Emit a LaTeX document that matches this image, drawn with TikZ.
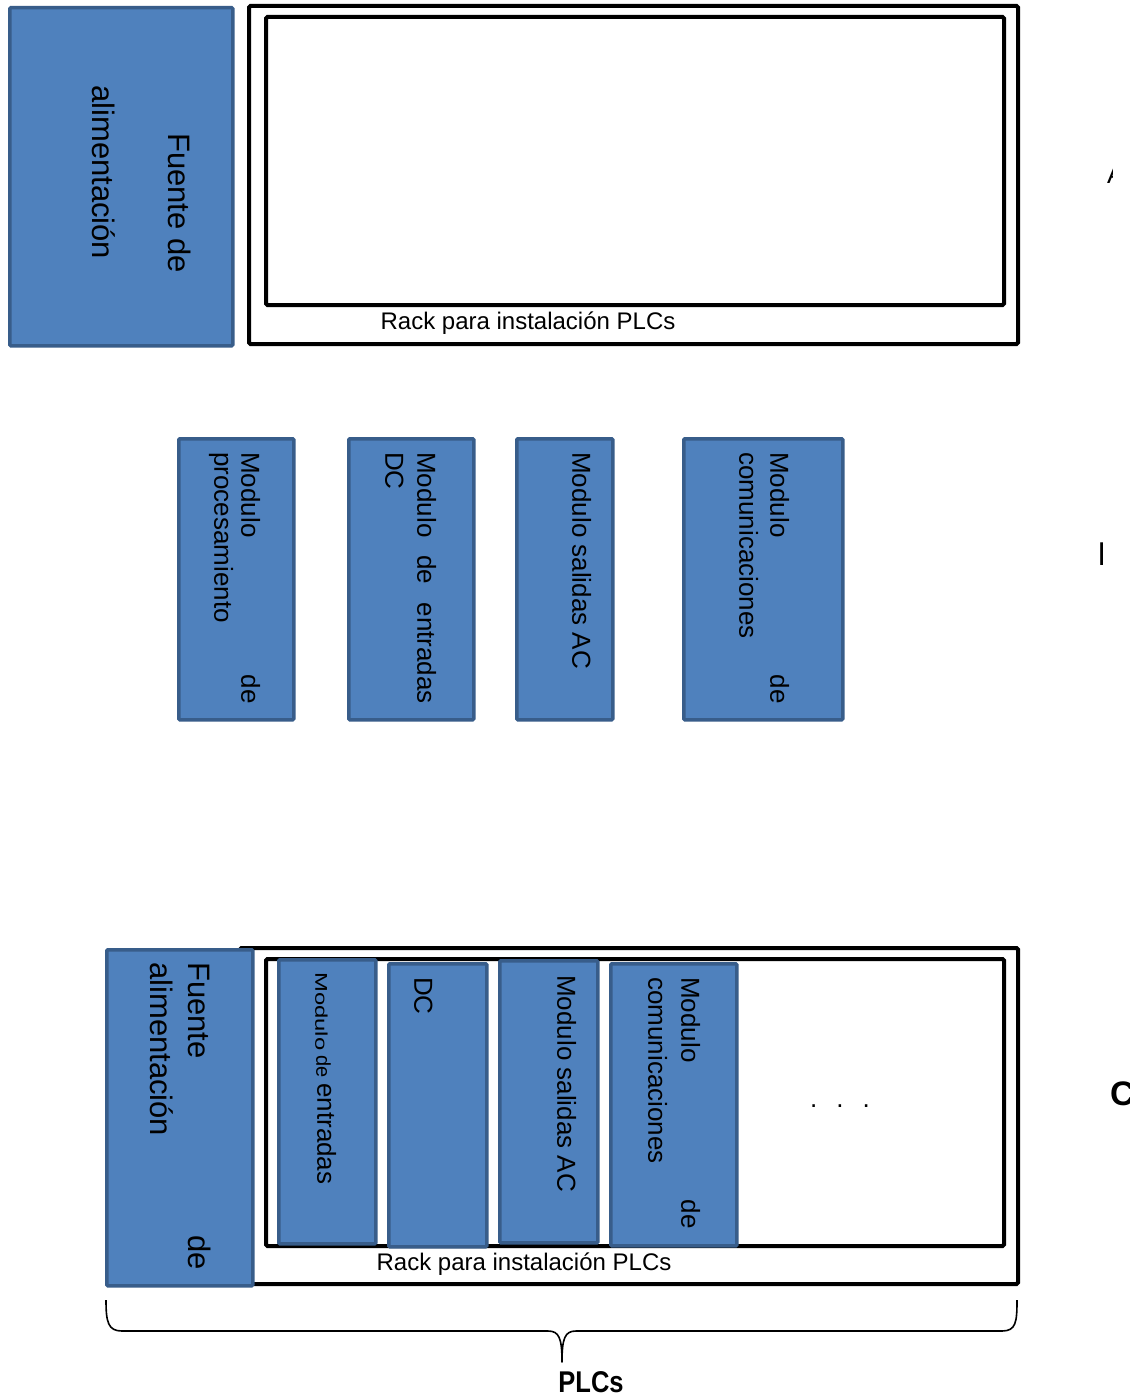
\documentclass[tikz,border=0pt]{standalone}
\usepackage{fontspec}
\setmainfont{Liberation Sans}
\definecolor{modfill}{HTML}{4F81BD}
\definecolor{modline}{HTML}{385D8A}
\begin{document}
\begin{tikzpicture}[x=1pt,y=-1pt,
  mod/.style={draw=modline, fill=modfill, line width=3.5pt, inner sep=0pt, anchor=north west, rounded corners=1pt},
  rack/.style={draw=black, line width=4pt, rounded corners=1.5pt},
  vt/.style={rotate=-90, inner sep=0pt, font=\fontsize{26}{30}\selectfont},
  vs/.style={rotate=-90, inner sep=0pt, font=\fontsize{20}{24}\selectfont},
  big/.style={rotate=-90, inner sep=0pt, font=\fontsize{31}{36}\selectfont},
  lbl/.style={inner sep=0pt, font=\fontsize{24}{28}\selectfont}]
\useasboundingbox (0,0) rectangle (1138,1399);
\fill[white] (0,0) rectangle (1138,1399);

% ---------- top: power supply and empty rack ----------
\node (f1) [mod, minimum width=223pt, minimum height=338pt] at (8,6) {};
\draw[rack] (249,6) rectangle (1018,344);
\draw[rack] (266,17) rectangle (1004,305);
\node (r1) [lbl, anchor=base] at (528,329) {Rack para instalación PLCs};
\node (f1a) [big, anchor=mid west] at (171,133) {Fuente de};
\node (f1b) [big, anchor=mid west] at (95,85) {alimentación};

% ---------- middle: loose modules ----------
\node (m1) [mod, minimum width=115pt, minimum height=281pt] at (177,437) {};
\node (m2) [mod, minimum width=125pt, minimum height=281pt] at (347,437) {};
\node (m3) [mod, minimum width=96pt, minimum height=281pt] at (515,437) {};
\node (m4) [mod, minimum width=159pt, minimum height=281pt] at (682,437) {};

\node (m1a) [vt, anchor=mid west] at (244,452) {Modulo};
\node (m1b) [vt, anchor=mid east] at (244,704) {de};
\node (m1c) [vt, anchor=mid west] at (217,452) {procesamiento};

\node (m2a) [vt, anchor=mid west] at (420,452) {Modulo};
\node (m2b) [vt, anchor=mid west] at (420,555) {de};
\node (m2c) [vt, anchor=mid east] at (420,704) {entradas};
\node (m2d) [vt, anchor=mid west] at (388,452) {DC};

\node (m3a) [vt, anchor=mid west] at (575,452) {Modulo salidas AC};

\node (m4a) [vt, anchor=mid west] at (773,452) {Modulo};
\node (m4b) [vt, anchor=mid east] at (773,704) {de};
\node (m4c) [vt, anchor=mid west] at (742,452) {comunicaciones};

% ---------- bottom: assembled PLC ----------
\draw[rack] (240,948) rectangle (1018,1284);
\draw[rack] (266,959) rectangle (1004,1246);
\node (b1) [mod, minimum width=97pt, minimum height=284pt] at (277,958) {};
\node (b2) [mod, minimum width=98pt, minimum height=283pt] at (387,962) {};
\node (b3) [mod, minimum width=98pt, minimum height=282pt] at (498,959) {};
\node (b4) [mod, minimum width=126pt, minimum height=282pt] at (609,962) {};
\node (f2) [mod, minimum width=146pt, minimum height=336pt] at (105,948) {};

\node (f2a) [big, anchor=mid west] at (191,962) {Fuente};
\node (f2b) [big, anchor=mid west] at (153,962) {alimentación};
\node (f2c) [big, anchor=mid east] at (191,1270) {de};

\node (b1a) [rotate=-90, xscale=1.4, inner sep=0pt, font=\fontsize{17}{20}\selectfont, anchor=mid west] at (318,972) {Modulo};
\node (b1d) [vs, anchor=mid west] at (319,1055) {de};
\node (b1b) [vt, anchor=mid west] at (320,1083) {entradas};
\node (b2a) [vt, anchor=mid west] at (417,977) {DC};
\node (b3a) [vt, anchor=mid west] at (560,975) {Modulo salidas AC};
\node (b4a) [vt, anchor=mid west] at (684,977) {Modulo};
\node (b4b) [vt, anchor=mid west] at (651,977) {comunicaciones};
\node (b4c) [vt, anchor=mid east] at (684,1229) {de};

\node (dots) [lbl, anchor=base, font=\fontsize{26}{30}\selectfont] at (840,1107) {.\hspace{19pt}.\hspace{19pt}.};
\node (r2) [lbl, anchor=base] at (524,1270) {Rack para instalación PLCs};

% ---------- brace ----------
\coordinate (brL) at (106,1300);
\coordinate (brR) at (1017,1300);
\coordinate (brT) at (562,1362);
\draw[line width=1.6pt, line join=round]
  (brL) .. controls (106,1322) and (108,1331) .. (122,1331) -- (548,1331)
  .. controls (559,1331) and (562,1338) .. (brT)
  .. controls (562,1338) and (565,1331) .. (576,1331) -- (1002,1331)
  .. controls (1016,1331) and (1017,1322) .. (brR);
\node (plcs) [inner sep=0pt, anchor=base, xscale=0.85, font=\bfseries\fontsize{30}{34}\selectfont] at (591,1392) {PLCs};

% ---------- clipped letters at the right edge ----------
\begin{scope}
  \clip (1100,150) rectangle (1112.5,190);
  \node (ea) [inner sep=0pt, anchor=base west, font=\fontsize{26}{30}\selectfont] at (1107,183) {A};
\end{scope}
\begin{scope}
  \clip (1095,530) rectangle (1102.6,575);
  \node (eb) [inner sep=0pt, anchor=base west, font=\fontsize{33}{38}\selectfont] at (1097.5,565) {B};
\end{scope}
\begin{scope}
  \clip (1105,1070) rectangle (1129,1115);
  \node (ec) [inner sep=0pt, anchor=base west, font=\bfseries\fontsize{34}{38}\selectfont] at (1110,1105) {C};
\end{scope}
\end{tikzpicture}
\end{document}
